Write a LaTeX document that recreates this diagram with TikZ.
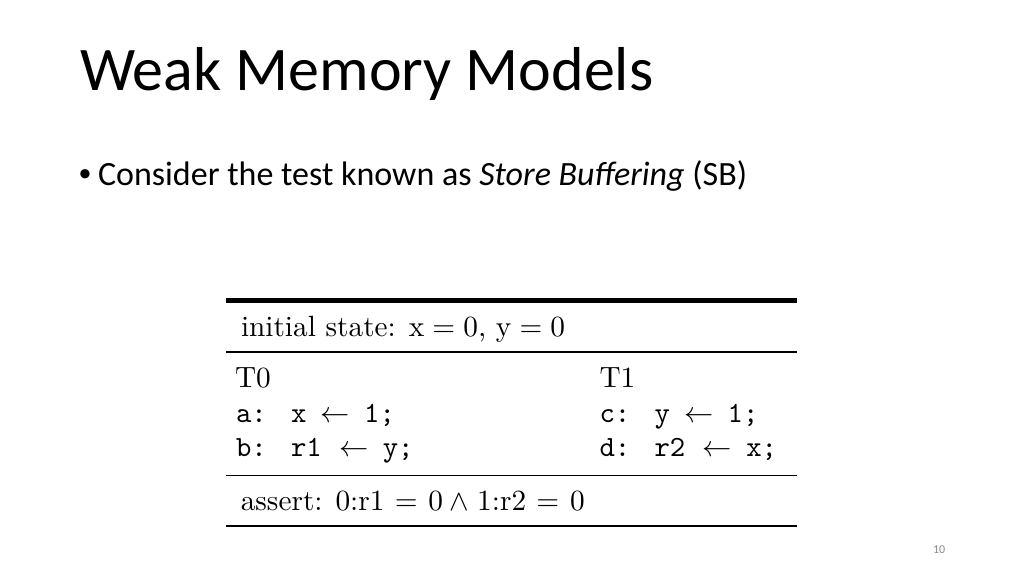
\RequirePackage{fix-cm}
\documentclass[tikz,border=0pt]{standalone}
\usepackage{fontspec}
\setmainfont{lmroman10-regular.otf}
\setmonofont{lmmono10-regular.otf}
\newfontfamily\calibri{Carlito}
\newfontfamily\arialfont{Liberation Sans}
\newcommand\tblscale{2.93}
\newcommand\tbltext[1]{\scalebox{\tblscale}{\fontsize{10}{12}\selectfont #1}}
\newcommand\codeline[5]{\texttt{#1}\hspace{8.3pt}\texttt{#2}\hspace{#4}$\leftarrow$\hspace{#5}\texttt{#3}}
\newcommand\releq{\hspace{3.5pt}$=$\hspace{3.7pt}}
\newcommand\relwedge{\hspace{2.3pt}$\wedge$\hspace{2.7pt}}
\begin{document}
\begin{tikzpicture}[x=1pt,y=-1pt,
  txt/.style={anchor=base west,inner sep=0pt,outer sep=0pt},
  tbl/.style={txt},
  heavyrule/.style={line width=5pt},
  midrule/.style={line width=1.4pt},
  botrule/.style={line width=2.7pt}]
\useasboundingbox[fill=white] (0,0) rectangle (1024,576);
% title and bullet
\node[txt,font=\calibri\fontsize{62}{66}\selectfont] (title) at (80,90) {Weak Memory Models};
\node[txt,font=\arialfont\fontsize{34}{40}\selectfont] (dot) at (79,185) {•};
\node[txt,font=\calibri\fontsize{34}{40}\selectfont] (body) at (98,185) {Consider the test known as \textit{Store Buffering} (SB)};
% table rules
\draw[heavyrule] (226,300) -- (797,300);
\draw[midrule] (226,352) -- (797,352);
\draw[midrule] (226,475.5) -- (797,475.5);
\draw[botrule] (226,526) -- (797,526);
% table text
\node[tbl] (init) at (241,336.7) {\tbltext{initial state: $\mathrm{x}=0$, $\mathrm{y}=0$}};
\node[tbl] (t0) at (235,387.3) {\tbltext{T0}};
\node[tbl] (t1) at (599.5,387.3) {\tbltext{T1}};
\node[tbl] (la) at (236,422.7) {\tbltext{\codeline{a:}{x}{1;}{4.8pt}{4.9pt}}};
\node[tbl] (lb) at (236,456) {\tbltext{\codeline{b:}{r1}{y;}{6pt}{4.8pt}}};
\node[tbl] (lc) at (599.5,422.7) {\tbltext{\codeline{c:}{y}{1;}{4.8pt}{4.9pt}}};
\node[tbl] (ld) at (599.5,456) {\tbltext{\codeline{d:}{r2}{x;}{6pt}{4.8pt}}};
\node[tbl] (assert) at (240.8,510) {\tbltext{assert: 0:r1\releq 0\relwedge 1:r2\releq 0}};
% page number
\node[txt,font=\calibri\fontsize{12}{14}\selectfont,text=black!46] (pageno) at (933,553) {10};
\end{tikzpicture}
\end{document}
